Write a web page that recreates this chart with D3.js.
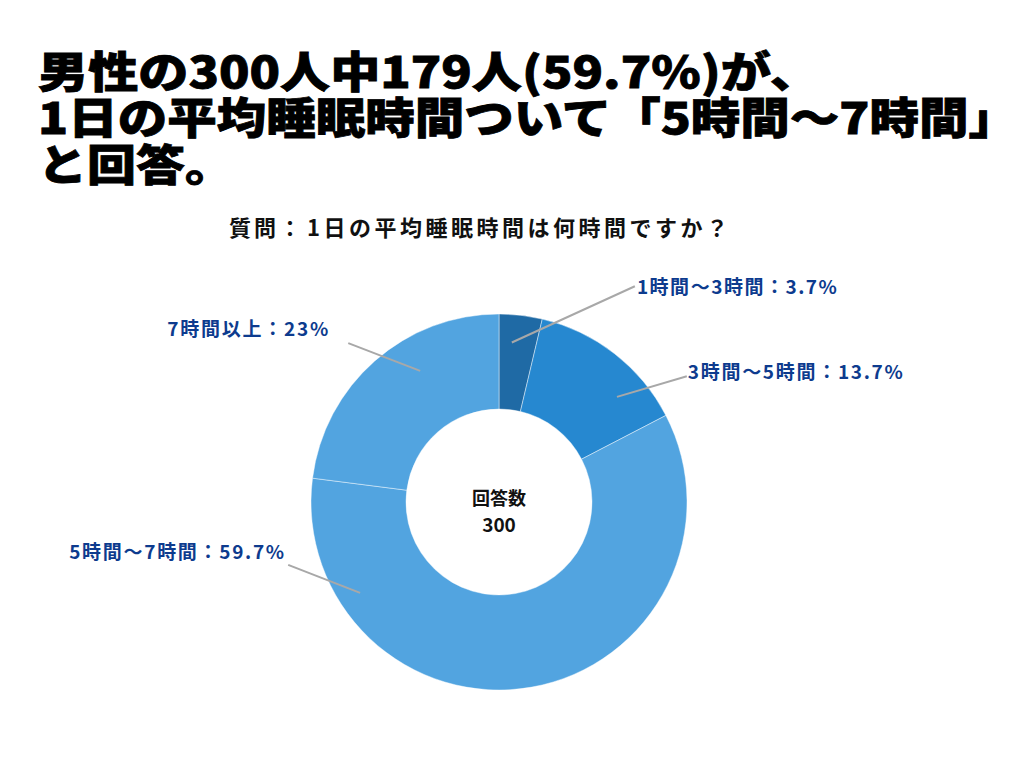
<!DOCTYPE html>
<html><head><meta charset="utf-8">
<script src="https://cdn.jsdelivr.net/npm/d3@7"></script>
<style>html,body{margin:0;padding:0;background:#fff;}svg{display:block;}</style>
</head><body>
<svg id="chart" width="1024" height="768"></svg>
<script>
// ---- data ----
const titleLines = ["男性の300人中179人(59.7%)が、", "1日の平均睡眠時間ついて「5時間〜7時間」", "と回答。"];
const subtitleHead = "質問：";
const subtitleBody = "1日の平均睡眠時間は何時間ですか？";
const categories = ["1時間〜3時間", "3時間〜5時間", "5時間〜7時間", "7時間以上"];
const percents = [3.7, 13.7, 59.7, 23];
const percentLabels = ["3.7%", "13.7%", "59.7%", "23%"];
const centerLabel = ["回答数", "300"];

// ---- styles / layout ----
const colors = ["#1f6aa5", "#2688d0", "#52a4e0", "#52a4e0"];
const labelColor = "#0d3b8e";
// leader layout per label: [innerAngleDeg, innerR, outerAngleDeg, outerR, anchor, textDx, textDy, textLen]
const leaderLayout = [
  [4.6, 160, 32.2, 255, "start", 2, -1, 200],
  [48.3, 158, 56.2, 226, "start", 1, -6, 215],
  [236.8, 166, 253.4, 220, "end", -4, -14, 215],
  [329, 153, 316.5, 219, "end", -20, -16, 161]
];

const svg = d3.select("#chart");
const W = 1024, H = 768;
svg.append("rect").attr("width", W).attr("height", H).attr("fill", "#fff");

const font = "'Noto Sans CJK JP', 'Noto Sans', sans-serif";

// title
const titleWidths = [782, 980, 196];
const titleY = [88, 134, 181];
svg.append("g").selectAll("text").data(titleLines).join("text")
  .attr("x", 38).attr("y", (d, i) => titleY[i])
  .attr("font-family", font).attr("font-weight", 900).attr("font-size", 43)
  .attr("fill", "#000").attr("stroke", "#000").attr("stroke-width", 0.8)
  .attr("textLength", (d, i) => titleWidths[i]).attr("lengthAdjust", "spacingAndGlyphs")
  .text(d => d);

// subtitle
svg.append("text").attr("x", 229).attr("y", 236)
  .attr("font-family", font).attr("font-weight", 700).attr("font-size", 22)
  .attr("fill", "#111")
  .attr("textLength", 72).attr("lengthAdjust", "spacing")
  .text(subtitleHead);
svg.append("text").attr("x", 307).attr("y", 236)
  .attr("font-family", font).attr("font-weight", 700).attr("font-size", 22)
  .attr("fill", "#111").attr("font-style", "normal")
  .attr("textLength", 421).attr("lengthAdjust", "spacing")
  .text(subtitleBody);

// donut
const cx = 499, cy = 502, rOuter = 188, rInner = 93;
const g = svg.append("g").attr("transform", `translate(${cx},${cy})`);
const pie = d3.pie().sort(null).value(d => d);
const arcs = pie(percents);
const arc = d3.arc().innerRadius(rInner).outerRadius(rOuter);
g.selectAll("path.slice").data(arcs).join("path")
  .attr("class", "slice")
  .attr("d", arc)
  .attr("fill", (d, i) => colors[i])
  .attr("stroke", "rgba(255,255,255,0.55)")
  .attr("stroke-width", 0.8);

// leaders
const rad = a => a * Math.PI / 180;
const pt = (a, r) => [r * Math.sin(rad(a)), -r * Math.cos(rad(a))];
leaderLayout.forEach((L, i) => {
  const p1 = pt(L[0], L[1]), p2 = pt(L[2], L[3]);
  g.append("line")
    .attr("x1", p1[0]).attr("y1", p1[1]).attr("x2", p2[0]).attr("y2", p2[1])
    .attr("stroke", "#a8a8a8").attr("stroke-width", 2);
  g.append("text")
    .attr("x", p2[0] + L[5]).attr("y", p2[1] + L[6])
    .attr("text-anchor", L[4]).attr("dominant-baseline", "central")
    .attr("font-family", font).attr("font-weight", 700).attr("font-size", 19)
    .attr("fill", labelColor)
    .attr("textLength", L[7]).attr("lengthAdjust", "spacing")
    .text(categories[i] + "：" + percentLabels[i]);
});

// center
g.append("text").attr("x", 0).attr("y", -5).attr("text-anchor", "middle")
  .attr("dominant-baseline", "central")
  .attr("font-family", font).attr("font-weight", 700).attr("font-size", 18).attr("fill", "#111")
  .text(centerLabel[0]);
g.append("text").attr("x", 0).attr("y", 21).attr("text-anchor", "middle")
  .attr("dominant-baseline", "central")
  .attr("font-family", font).attr("font-weight", 700).attr("font-size", 19).attr("fill", "#111")
  .text(centerLabel[1]);
</script>
</body></html>
